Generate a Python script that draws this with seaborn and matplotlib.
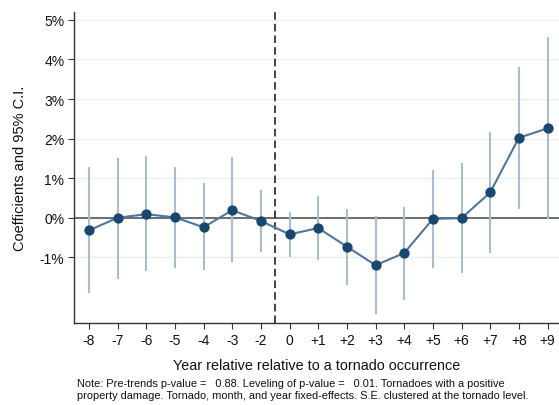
import matplotlib
matplotlib.use("Agg")
import matplotlib.pyplot as plt
import seaborn as sns
import numpy as np
import pandas as pd

# Event-study estimates (percent), by year relative to a tornado
periods = ["-8", "-7", "-6", "-5", "-4", "-3", "-2", "0",
           "+1", "+2", "+3", "+4", "+5", "+6", "+7", "+8", "+9"]
coef = [-0.32, 0.00, 0.09, 0.01, -0.24, 0.19, -0.08, -0.42,
        -0.26, -0.73, -1.20, -0.89, -0.03, -0.01, 0.64, 2.02, 2.26]
ci_low = [-1.90, -1.54, -1.34, -1.27, -1.33, -1.12, -0.87, -1.00,
          -1.07, -1.70, -2.43, -2.08, -1.26, -1.39, -0.89, 0.21, -0.04]
ci_high = [1.29, 1.52, 1.55, 1.28, 0.88, 1.54, 0.71, 0.14,
           0.56, 0.23, 0.04, 0.28, 1.20, 1.38, 2.17, 3.82, 4.56]
y_ticks = [5, 4, 3, 2, 1, 0, -1]

df = pd.DataFrame({"pos": np.arange(len(periods)), "coef": coef,
                   "lo": ci_low, "hi": ci_high})

sns.set_theme(style="white")
plt.rcParams["font.family"] = ["Liberation Sans", "DejaVu Sans"]

fig = plt.figure(figsize=(5.59, 4.06), dpi=100)
ax = fig.add_axes([74 / 559, 82 / 406, 485 / 559, 311 / 406])

navy = "#1a476f"
line_c = "#4f769c"
ci_c = "#a9bcd0"
grid_c = "#e8f0f2"

for t in y_ticks:
    ax.axhline(t, color=grid_c, lw=1.0, zorder=0)
ax.axhline(0, color="#555555", lw=1.2, zorder=1)

ax.vlines(df["pos"], df["lo"], df["hi"], color=ci_c, lw=1.5, zorder=2)
sns.lineplot(data=df, x="pos", y="coef", ax=ax, color=line_c, lw=1.5,
             zorder=3, legend=False)
sns.scatterplot(data=df, x="pos", y="coef", ax=ax, color=navy, s=55,
                edgecolor=navy, linewidth=0, zorder=4, legend=False)

ax.axvline(6.5, color="#222222", lw=1.2, ls=(0, (4.5, 2.5)), zorder=2)

ax.set_xlim(-0.52, 16.4)
ax.set_ylim(-2.66, 5.2)
ax.set_xticks(df["pos"])
ax.set_xticklabels(periods)
ax.set_yticks(y_ticks)
ax.set_yticklabels([f"{t}%" for t in y_ticks])

for s in ["top", "right"]:
    ax.spines[s].set_visible(False)
for s in ["left", "bottom"]:
    ax.spines[s].set_color("#333333")
    ax.spines[s].set_linewidth(1.0)

ax.tick_params(axis="both", which="major", length=4, width=0.8,
               color="#333333", labelsize=10, labelcolor="#111111", pad=3,
               direction="out", left=True, bottom=True)

ax.set_xlabel("Year relative relative to a tornado occurrence",
              fontsize=10.4, color="#111111", labelpad=8)
ax.set_ylabel("Coefficients and 95% C.I.", fontsize=10.5, color="#111111",
              labelpad=9)

fig.text(77 / 559, 1 - 379 / 406,
         "Note: Pre-trends p-value =   0.88. Leveling of p-value =   0.01. "
         "Tornadoes with a positive\nproperty damage. Tornado, month, and "
         "year fixed-effects. S.E. clustered at the tornado level.",
         fontsize=7.9, color="#111111", va="top", ha="left",
         linespacing=1.3)

fig.savefig("out.png", dpi=100, facecolor="white")
